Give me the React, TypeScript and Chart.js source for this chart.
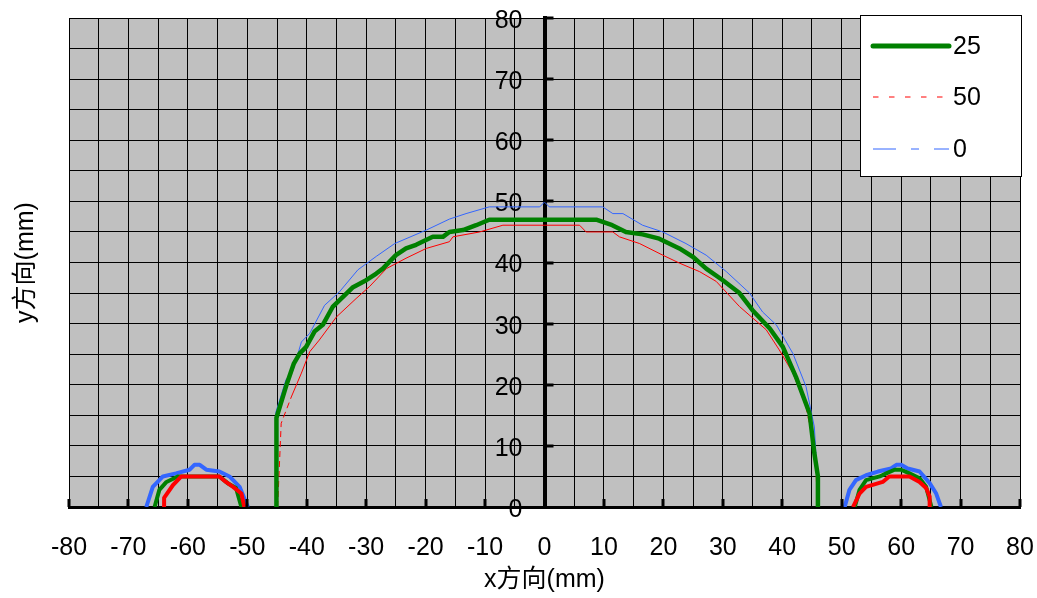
import React, { useEffect, useRef } from 'react';
import { Chart, registerables } from 'chart.js';

Chart.register(...registerables);

type P = { x: number; y: number };

// ---- data (mm) ----
const seriesNames = ['25', '50', '0'];

const arc25: P[] = [
  { x: -45.1, y: 0 }, { x: -45.1, y: 14.6 }, { x: -43.5, y: 19.7 }, { x: -42.2, y: 23.4 },
  { x: -41.2, y: 25.1 }, { x: -40.1, y: 26.2 }, { x: -38.7, y: 28.7 }, { x: -37.3, y: 29.8 },
  { x: -35.6, y: 32.8 }, { x: -32.3, y: 35.9 }, { x: -30.0, y: 37.1 }, { x: -28.3, y: 38.2 },
  { x: -27.2, y: 39.0 }, { x: -25.0, y: 41.2 }, { x: -23.3, y: 42.3 }, { x: -21.6, y: 42.9 },
  { x: -18.8, y: 44.2 }, { x: -17.1, y: 44.2 }, { x: -16.0, y: 45.0 }, { x: -13.7, y: 45.3 },
  { x: -11.5, y: 46.1 }, { x: -9.3, y: 47.0 }, { x: 8.7, y: 47.0 }, { x: 11.4, y: 46.1 },
  { x: 13.7, y: 45.0 }, { x: 16.5, y: 44.6 }, { x: 19.3, y: 43.9 }, { x: 22.7, y: 42.3 },
  { x: 25.0, y: 40.9 }, { x: 27.2, y: 39.0 }, { x: 30.0, y: 37.1 }, { x: 32.8, y: 35.0 },
  { x: 35.0, y: 32.2 }, { x: 37.9, y: 29.2 }, { x: 40.1, y: 26.2 }, { x: 42.3, y: 21.3 },
  { x: 44.6, y: 15.3 }, { x: 45.4, y: 8.8 }, { x: 46.0, y: 5.0 }, { x: 46.0, y: 0 },
];

const arc50: P[] = [
  { x: -44.9, y: 0 }, { x: -44.3, y: 13.7 }, { x: -42.6, y: 18.0 }, { x: -40.9, y: 21.9 },
  { x: -39.5, y: 25.4 }, { x: -37.9, y: 27.3 }, { x: -35.0, y: 31.1 }, { x: -31.7, y: 34.1 },
  { x: -29.4, y: 36.1 }, { x: -26.6, y: 39.0 }, { x: -23.3, y: 40.7 }, { x: -19.9, y: 42.3 },
  { x: -16.0, y: 43.4 }, { x: -15.4, y: 44.2 }, { x: -10.9, y: 45.0 }, { x: -7.0, y: 46.1 },
  { x: 5.9, y: 46.1 }, { x: 7.0, y: 45.0 }, { x: 11.5, y: 45.0 }, { x: 12.6, y: 44.2 },
  { x: 16.0, y: 43.1 }, { x: 19.9, y: 41.2 }, { x: 22.7, y: 39.9 }, { x: 26.1, y: 38.5 },
  { x: 28.9, y: 36.9 }, { x: 32.8, y: 32.8 }, { x: 37.3, y: 29.0 }, { x: 39.5, y: 25.7 },
  { x: 41.8, y: 21.9 }, { x: 44.0, y: 16.4 }, { x: 45.1, y: 11.0 }, { x: 45.7, y: 5.5 },
  { x: 45.9, y: 0 },
];

const arc0: P[] = [
  { x: -45.2, y: 0 }, { x: -45.2, y: 15.5 }, { x: -43.5, y: 20.8 }, { x: -42.3, y: 22.4 },
  { x: -40.9, y: 27.0 }, { x: -39.5, y: 28.4 }, { x: -37.0, y: 33.0 }, { x: -34.5, y: 35.2 },
  { x: -31.4, y: 38.8 }, { x: -28.3, y: 41.0 }, { x: -25.2, y: 43.1 }, { x: -19.9, y: 45.3 },
  { x: -16.0, y: 47.1 }, { x: -13.2, y: 48.0 }, { x: -9.3, y: 49.1 }, { x: -0.8, y: 49.1 },
  { x: 0, y: 49.9 }, { x: 0.8, y: 49.1 }, { x: 9.8, y: 49.1 }, { x: 11.5, y: 48.0 },
  { x: 13.2, y: 48.0 }, { x: 16.5, y: 46.1 }, { x: 19.9, y: 45.0 }, { x: 23.8, y: 43.1 },
  { x: 27.2, y: 41.2 }, { x: 30.6, y: 38.5 }, { x: 34.5, y: 35.0 }, { x: 36.7, y: 31.9 },
  { x: 39.0, y: 29.8 }, { x: 41.8, y: 25.1 }, { x: 44.0, y: 19.7 }, { x: 45.4, y: 13.1 },
  { x: 45.7, y: 8.0 }, { x: 45.9, y: 0 },
];

const left0: P[] = [
  { x: -67.0, y: 0 }, { x: -65.9, y: 3.3 }, { x: -64.2, y: 5.0 }, { x: -62.0, y: 5.5 },
  { x: -59.7, y: 6.1 }, { x: -58.9, y: 6.9 }, { x: -58.0, y: 6.9 }, { x: -56.9, y: 6.1 },
  { x: -54.7, y: 5.8 }, { x: -53.0, y: 5.0 }, { x: -51.3, y: 3.3 }, { x: -49.9, y: 0 },
];
const left25: P[] = [
  { x: -65.6, y: 0 }, { x: -64.8, y: 2.8 }, { x: -63.6, y: 4.1 }, { x: -61.7, y: 5.0 },
  { x: -54.7, y: 5.0 }, { x: -53.3, y: 3.9 }, { x: -51.9, y: 3.1 }, { x: -51.0, y: 0 },
];
const left50: P[] = [
  { x: -64.0, y: 0 }, { x: -64.0, y: 1.5 }, { x: -62.5, y: 3.6 }, { x: -61.1, y: 5.0 },
  { x: -54.7, y: 5.0 }, { x: -53.6, y: 4.1 }, { x: -52.4, y: 3.3 }, { x: -51.0, y: 2.2 },
  { x: -50.5, y: 0 },
];
const right0: P[] = [
  { x: 50.5, y: 0 }, { x: 51.3, y: 2.8 }, { x: 52.4, y: 4.4 }, { x: 54.1, y: 5.2 },
  { x: 56.1, y: 5.8 }, { x: 58.3, y: 6.3 }, { x: 59.2, y: 6.9 }, { x: 60.0, y: 6.9 },
  { x: 61.1, y: 6.3 }, { x: 63.1, y: 5.8 }, { x: 64.8, y: 3.9 }, { x: 65.9, y: 2.2 },
  { x: 66.7, y: 0 },
];
const right25: P[] = [
  { x: 52.2, y: 0 }, { x: 53.0, y: 2.8 }, { x: 54.1, y: 4.4 }, { x: 56.4, y: 5.0 },
  { x: 57.5, y: 5.5 }, { x: 58.9, y: 6.1 }, { x: 60.0, y: 6.1 }, { x: 61.4, y: 5.5 },
  { x: 63.1, y: 4.7 }, { x: 64.2, y: 3.3 }, { x: 65.1, y: 0 },
];
const right50: P[] = [
  { x: 51.9, y: 0 }, { x: 53.0, y: 2.2 }, { x: 54.1, y: 3.3 }, { x: 56.9, y: 4.1 },
  { x: 58.0, y: 5.0 }, { x: 61.4, y: 5.0 }, { x: 63.1, y: 4.1 }, { x: 64.2, y: 3.1 },
  { x: 64.8, y: 1.7 }, { x: 64.8, y: 0 },
];

const xMin = -80, xMax = 80, yMin = 0, yMax = 80;
const gridStep = 5;
const labelStep = 10;
const xTitle = 'x方向(mm)';
const yTitle = 'y方向(mm)';

const GREEN = '#008000';
const RED = '#FF0000';
const BLUE = '#3366FF';
const FONT = "'Liberation Sans', 'Noto Sans CJK SC', Arial, sans-serif";
const FS = 25;

const zeroPad = (s: any) => {
  s.paddingTop = 0;
  s.paddingBottom = 0;
  s.paddingLeft = 0;
  s.paddingRight = 0;
};

const bgPlugin = {
  id: 'plotBg',
  beforeDraw(chart: any) {
    const { ctx, chartArea: a } = chart;
    ctx.save();
    ctx.fillStyle = '#C0C0C0';
    ctx.fillRect(a.left, a.top, a.right - a.left, a.bottom - a.top);
    ctx.restore();
  },
};

const decoPlugin = {
  id: 'deco',
  afterDraw(chart: any) {
    const { ctx, chartArea: a, scales } = chart;
    const xs = scales.x, ys = scales.y;
    ctx.save();
    // axis tick marks
    ctx.fillStyle = '#000';
    const y0 = ys.getPixelForValue(0);
    for (let v = xMin; v <= xMax; v += labelStep) {
      const px = xs.getPixelForValue(v);
      ctx.fillRect(Math.round(px) - 1.5, y0 - 8, 3, 8);
    }
    const x0 = xs.getPixelForValue(0);
    for (let v = yMin + labelStep; v <= yMax; v += labelStep) {
      const py = ys.getPixelForValue(v);
      ctx.fillRect(x0, Math.round(py) - 1.5, 9, 3);
    }
    // legend
    const L = a.right - 160, T = a.top - 3, W = 162, H = 162;
    ctx.fillStyle = '#FFFFFF';
    ctx.fillRect(L, T, W, H);
    ctx.strokeStyle = '#000';
    ctx.lineWidth = 1;
    ctx.strokeRect(L + 0.5, T + 0.5, W - 1, H - 1);
    const items = [
      { name: seriesNames[0], color: GREEN, width: 5, dash: [] as number[], y: T + 31 },
      { name: seriesNames[1], color: RED, width: 1, dash: [5.5, 10.5], y: T + 82 },
      { name: seriesNames[2], color: BLUE, width: 1, dash: [23, 15, 8, 15, 12, 0], y: T + 134 },
    ];
    ctx.font = `${FS}px ${FONT}`;
    ctx.textBaseline = 'middle';
    ctx.textAlign = 'left';
    for (const it of items) {
      ctx.strokeStyle = it.color;
      ctx.lineWidth = it.width;
      ctx.lineCap = it.width > 2 ? 'round' : 'butt';
      ctx.setLineDash(it.dash);
      ctx.beginPath();
      ctx.moveTo(L + 13, it.y);
      ctx.lineTo(L + 89, it.y);
      ctx.stroke();
      ctx.setLineDash([]);
      ctx.fillStyle = '#000';
      ctx.fillText(it.name, L + 93, it.y + 1);
    }
    ctx.restore();
  },
};

export default function App() {
  const ref = useRef<HTMLCanvasElement>(null);
  useEffect(() => {
    if (!ref.current) return;
    const lastIdx = arc50.length - 1;
    const chart = new Chart(ref.current, {
      type: 'scatter',
      data: {
        datasets: [
          { label: '25', data: arc25, borderColor: GREEN, borderWidth: 4.5 },
          {
            label: '50', data: arc50, borderColor: RED, borderWidth: 1,
            segment: {
              borderDash: (c: any) =>
                c.p0DataIndex <= 1 || c.p0DataIndex >= lastIdx - 3 ? [6, 4] : undefined,
            },
          },
          { label: '0', data: arc0, borderColor: BLUE, borderWidth: 1 },
          { label: 'l50', data: left50, borderColor: RED, borderWidth: 4 },
          { label: 'r50', data: right50, borderColor: RED, borderWidth: 4 },
          { label: 'l25', data: left25, borderColor: GREEN, borderWidth: 4 },
          { label: 'r25', data: right25, borderColor: GREEN, borderWidth: 4 },
          { label: 'l0', data: left0, borderColor: BLUE, borderWidth: 4 },
          { label: 'r0', data: right0, borderColor: BLUE, borderWidth: 4 },
        ].map((d) => ({ ...d, showLine: true, pointRadius: 0, fill: false, tension: 0, borderJoinStyle: 'round' as const })),
      },
      options: {
        responsive: false,
        animation: false,
        devicePixelRatio: 1,
        layout: { padding: { top: 18, right: 17, left: 0, bottom: 0 } },
        plugins: { legend: { display: false }, tooltip: { enabled: false } },
        scales: {
          x: {
            type: 'linear',
            position: 'bottom',
            min: xMin,
            max: xMax,
            afterFit: (s: any) => { s.height = 91; zeroPad(s); },
            ticks: {
              stepSize: gridStep,
              autoSkip: false,
              maxRotation: 0,
              minRotation: 0,
              padding: 26,
              color: '#000',
              font: { family: FONT, size: FS },
              callback: (v: any) => (Number(v) % labelStep === 0 ? String(v) : ''),
            },
            grid: { color: '#000', lineWidth: 1, drawTicks: false },
            border: { color: '#000', width: 3 },
            title: {
              display: true,
              text: xTitle,
              color: '#000',
              font: { family: FONT, size: FS },
              padding: { top: 0, bottom: 3 },
            },
          },
          yl: {
            type: 'linear',
            position: 'left',
            min: yMin,
            max: yMax,
            afterFit: (s: any) => { s.width = 69; zeroPad(s); },
            ticks: { display: false },
            grid: { display: false, drawTicks: false },
            border: { display: false },
            title: {
              display: true,
              text: yTitle,
              color: '#000',
              font: { family: FONT, size: FS },
              padding: { top: 11, bottom: 0 },
            },
          },
          y: {
            type: 'linear',
            position: 'center',
            min: yMin,
            max: yMax,
            afterFit: (s: any) => { zeroPad(s); },
            ticks: {
              stepSize: gridStep,
              autoSkip: false,
              padding: 22,
              labelOffset: 3,
              color: '#000',
              font: { family: FONT, size: FS },
              callback: (v: any) => (Number(v) % labelStep === 0 ? String(v) : ''),
            },
            grid: { color: '#000', lineWidth: 1, drawTicks: false },
            border: { color: '#000', width: 4 },
          },
        },
      } as any,
      plugins: [bgPlugin, decoPlugin],
    });
    return () => chart.destroy();
  }, []);
  return (
    <div style={{ position: 'fixed', left: 0, top: 0, width: 1037, height: 598, background: '#fff' }}>
      <canvas ref={ref} width={1037} height={598} style={{ display: 'block' }} />
    </div>
  );
}
